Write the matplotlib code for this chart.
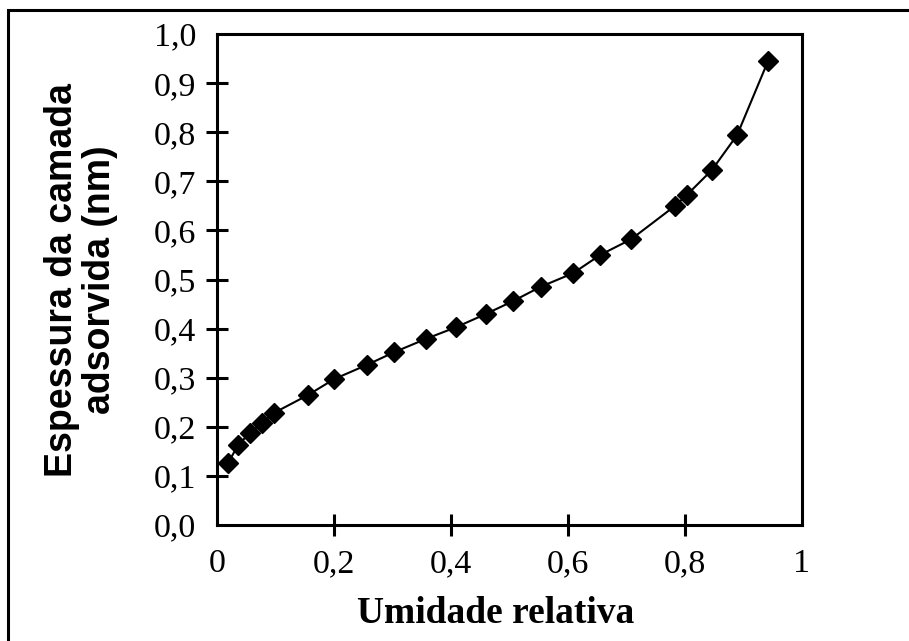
import matplotlib
matplotlib.use("Agg")
import matplotlib.pyplot as plt
from matplotlib.patches import Rectangle

# relative humidity vs adsorbed layer thickness (nm)
umidade = [0.019, 0.036, 0.056, 0.077, 0.097, 0.156, 0.200, 0.256, 0.303, 0.357, 0.409,
           0.460, 0.506, 0.553, 0.609, 0.655, 0.708, 0.783, 0.803, 0.846, 0.889, 0.942]
espessura = [0.126, 0.163, 0.187, 0.208, 0.228, 0.265, 0.297, 0.326, 0.352, 0.379, 0.403,
             0.430, 0.456, 0.485, 0.513, 0.550, 0.582, 0.650, 0.672, 0.723, 0.794, 0.945]

xticks = [0, 0.2, 0.4, 0.6, 0.8, 1]
xlabels = ["0", "0,2", "0,4", "0,6", "0,8", "1"]
yticks = [i / 10 for i in range(11)]
ylabels = ["%.1f" % v for v in yticks]
ylabels = [s.replace(".", ",") for s in ylabels]

serif = "Liberation Serif"
sans = "Liberation Sans"

fig = plt.figure(figsize=(9.09, 6.41), dpi=100)
ax = fig.add_axes([217 / 909, 116 / 641, 585 / 909, 491 / 641])

ax.plot(umidade, espessura, color="black", lw=1.5, marker="D", ms=10.5,
        markerfacecolor="black", markeredgecolor="black", clip_on=False)

ax.set_xlim(0, 1)
ax.set_ylim(0, 1)
ax.set_xticks(xticks)
ax.set_xticklabels(xlabels, fontfamily=serif, fontsize=24.5)
ax.set_yticks(yticks)
ax.set_yticklabels(ylabels, fontfamily=serif, fontsize=24.5)
ax.tick_params(direction="inout", length=16, width=2.2, pad=7, colors="black")
ax.tick_params(axis="x", pad=9)
# no tick marks at the ends of the axes
for t in (ax.xaxis.get_major_ticks()[0], ax.xaxis.get_major_ticks()[-1],
          ax.yaxis.get_major_ticks()[0], ax.yaxis.get_major_ticks()[-1]):
    t.tick1line.set_visible(False)

for sp in ax.spines.values():
    sp.set_linewidth(2.2)

ax.set_xlabel("Umidade relativa", fontfamily=serif, fontweight="bold", fontsize=27)
ax.xaxis.set_label_coords(0.477, -0.145)
fig.text(81 / 909, 1 - 280 / 641, "Espessura da camada\nadsorvida (nm)", rotation=90,
         ha="center", va="center", multialignment="center", fontfamily=sans,
         fontweight="bold", fontsize=27, linespacing=1.05)

# outer frame, cut off at the right and bottom
fig.patches.append(Rectangle((8 / 909, -0.2), 1.2, 1.2 - 10 / 641,
                             transform=fig.transFigure, fill=False, lw=2.2,
                             edgecolor="black", clip_on=False))

fig.savefig("out.png", dpi=100)
